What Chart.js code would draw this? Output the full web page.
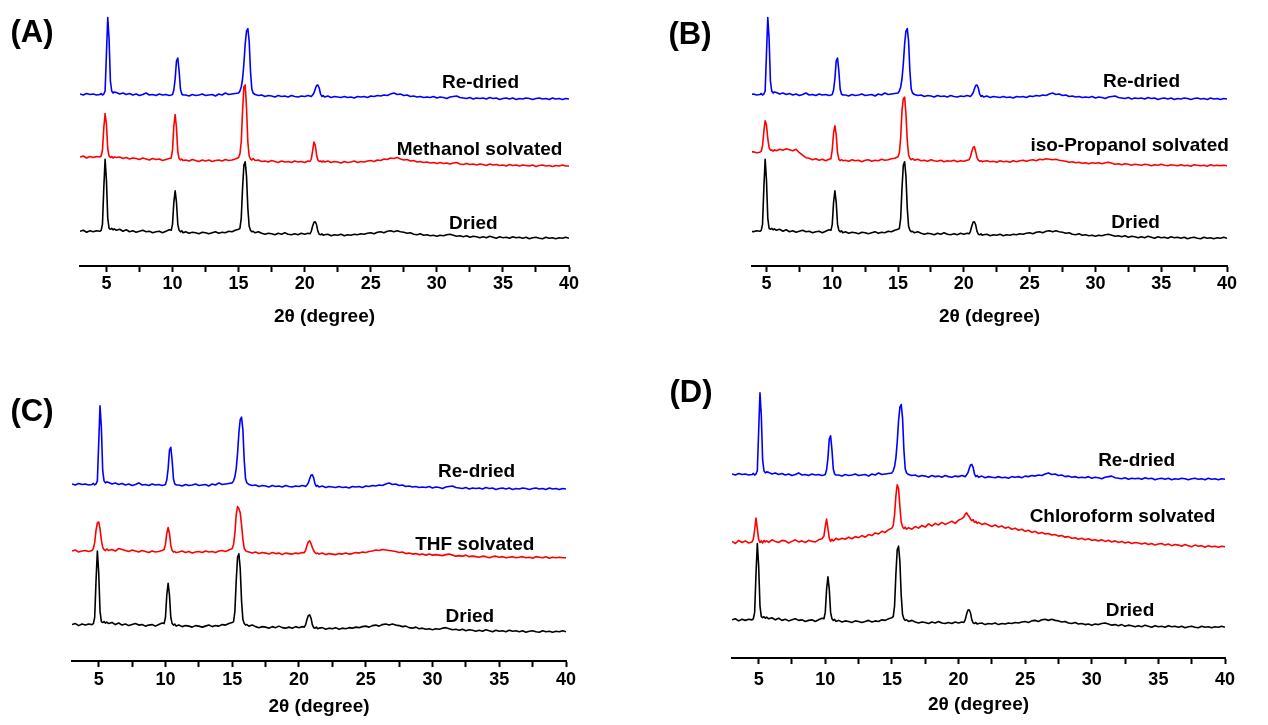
<!DOCTYPE html>
<html>
<head>
<meta charset="utf-8">
<script src="https://cdn.jsdelivr.net/npm/chart.js@4.4.0/dist/chart.umd.min.js"></script>
<style>
  body { margin: 0; background: #fff; }
  #page { position: relative; width: 1268px; height: 725px; overflow: hidden; background: #fff; }
  #page canvas { position: absolute; }
</style>
</head>
<body>
<div id="page">
  <canvas id="panelA" width="634" height="329" style="left:0;top:0"></canvas>
  <canvas id="panelB" width="634" height="329" style="left:634px;top:0"></canvas>
  <canvas id="panelC" width="634" height="349" style="left:0;top:370px"></canvas>
  <canvas id="panelD" width="634" height="346" style="left:634px;top:370px"></canvas>
</div>
<script>
// 2-theta sampling (degree), finer around the reflections
const angles = [
  3, 3.25, 3.5, 3.75, 4, 4.25,
  4.5, 4.6, 4.7, 4.8, 4.9, 5, 5.1, 5.2, 5.3, 5.4, 5.5, 5.6,
  5.75, 6, 6.25, 6.5, 6.75, 7, 7.25, 7.5, 7.75, 8, 8.25, 8.5, 8.75, 9, 9.25, 9.5, 9.75,
  9.9, 10, 10.1, 10.2, 10.3, 10.4, 10.5, 10.6, 10.7, 10.8,
  11, 11.25, 11.5, 11.75, 12, 12.25, 12.5, 12.75, 13, 13.25, 13.5, 13.75, 14, 14.25, 14.5, 14.75, 15,
  15.1, 15.2, 15.3, 15.4, 15.5, 15.6, 15.7, 15.8, 15.9, 16, 16.1,
  16.25, 16.5, 16.75, 17, 17.25, 17.5, 17.75, 18, 18.25, 18.5, 18.75, 19, 19.25, 19.5, 19.75, 20, 20.25,
  20.4, 20.5, 20.6, 20.7, 20.8, 20.9, 21, 21.1, 21.2, 21.3, 21.4,
  21.5, 21.75, 22, 22.25, 22.5, 22.75, 23, 23.25, 23.5, 23.75, 24, 24.25,
  24.5, 24.75, 25, 25.25, 25.5, 25.75, 26, 26.25, 26.5, 26.75, 27, 27.25,
  27.5, 27.75, 28, 28.25, 28.5, 28.75, 29, 29.25, 29.5, 29.75, 30, 30.25,
  30.5, 30.75, 31, 31.25, 31.5, 31.75, 32, 32.25, 32.5, 32.75, 33, 33.25,
  33.5, 33.75, 34, 34.25, 34.5, 34.75, 35, 35.25, 35.5, 35.75, 36, 36.25,
  36.5, 36.75, 37, 37.25, 37.5, 37.75, 38, 38.25, 38.5, 38.75, 39, 39.25,
  39.5, 39.75, 40
];

// intensities (a.u.) above each pattern's own baseline at 40 deg
const dried = [
  7, 8, 6, 7.5, 6.5, 7.5,
  7, 8, 14, 50, 79, 58, 20, 10, 9, 10, 8.5, 9.5,
  8, 9, 7, 8.5, 6.5, 7.5, 6, 7, 8, 6.5, 7, 5.5, 6.5, 7, 5.5, 7, 8.5,
  8, 14, 36, 47.5, 36, 14, 8, 6.5, 7.5, 5.5,
  6.5, 5, 6, 5.5, 4.5, 6, 5.5, 4.5, 5.5, 6.5, 5, 6, 5.5, 7, 6.5, 8, 9,
  10, 20, 50, 73, 76.5, 62, 30, 12, 8, 6.5, 7,
  5.5, 6.5, 5, 4, 5, 4.5, 3.5, 5, 4, 5.5, 4, 3.5, 4.5, 3.5, 5, 4, 5,
  4.5, 7, 12, 16, 16.5, 13.5, 7, 4, 3.5, 4.5, 3,
  3.5, 4, 2.5, 3.5, 3, 4, 2.5, 3.5, 3, 4, 3.5, 4.5,
  4, 5, 5.5, 4.5, 6, 6.5, 5.5, 7, 7.5, 6.5, 7.5, 6.5,
  6, 5, 5.5, 4, 3.5, 4.5, 3, 3.5, 2.5, 3, 2, 3,
  2.5, 3.5, 4, 3, 2, 2.5, 1.5, 2.5, 1, 2, 1.5, 0.5,
  1.5, 0.5, 2, 1, 0, 1.5, 0.5, 1, 0, 1.5, 0.5, 1,
  0, 1, -0.5, 0.5, 1, 0, -0.5, 1, 0, 0.5, -0.5, 0.5,
  0, 1, 0
];

const reDried = [
  5, 4, 5.5, 4.5, 5, 4,
  4.5, 5.5, 4, 5, 8, 45, 81.5, 60, 18, 8, 6, 7,
  6.5, 5, 6, 4.5, 5.5, 4, 5, 3.5, 4.5, 6, 4, 4.5, 3.5, 5, 4, 4.5, 3.5,
  4, 4.5, 9, 20, 38, 41, 28, 10, 5, 4,
  4, 3, 4.5, 3.5, 4, 5, 3.5, 4, 4.5, 3, 5, 4, 6, 4.5, 5, 5.5, 6,
  8, 12, 20, 35, 55, 68, 70.5, 58, 28, 10, 6,
  4.5, 3.5, 4, 2.5, 3.5, 3, 2, 3.5, 2.5, 3, 2, 3.5, 2.5, 2, 3, 2.5, 3.5,
  3, 2.5, 4, 6, 10, 13.5, 14, 11, 5, 2.5, 3.5,
  2, 3, 1.5, 2.5, 2, 1.5, 2.5, 1.5, 2, 1, 2.5, 2,
  2.5, 1.5, 3, 2.5, 3.5, 3, 4, 3.5, 5, 6, 4.5, 5,
  3.5, 4, 2.5, 3, 2, 2.5, 1.5, 2, 1.5, 2.5, 1, 2,
  1.5, 0.5, 2, 2.5, 3, 1.5, 1, 0.5, 1.5, 0, 1, 0.5,
  1, 0, 1.5, 0.5, 1, -0.5, 0.5, 1, 0, 1, -0.5, 0.5,
  0, 1, 0.5, -0.5, 0.5, 1, 0, 0.5, -0.5, 1, 0, 0.5,
  -0.5, 0.5, 0
];

const methanolSolvated = [
  9, 10, 8, 9.5, 8.5, 9.5,
  9, 10, 16, 38, 52.5, 42, 17, 10, 8.5, 9.5, 8, 9,
  8.5, 9, 7.5, 8.5, 7, 8, 7.5, 6.5, 8, 7, 6, 7.5, 6.5, 7, 5.5, 6.5, 7.5,
  8, 16, 40, 51.5, 38, 14, 7.5, 6, 7, 5.5,
  6, 5, 6.5, 5.5, 4.5, 6, 5, 6, 4.5, 5.5, 6, 5, 6.5, 5.5, 6, 7, 8.5,
  12, 24, 55, 79, 81, 58, 24, 10, 7, 6, 7.5,
  5.5, 6, 4.5, 5, 4, 5.5, 4.5, 3.5, 5, 4, 4.5, 3.5, 5, 4, 4.5, 3.5, 5,
  4.5, 7, 15, 24, 21, 11, 6, 4.5, 5, 4, 5,
  4, 5, 3.5, 4.5, 4, 3, 4.5, 3.5, 4, 5, 3.5, 4.5,
  4, 5, 5.5, 4.5, 6, 5.5, 7, 6.5, 8, 7.5, 8.5, 7,
  6, 6.5, 5, 5.5, 4, 4.5, 3.5, 4, 3, 3.5, 2.5, 3.5,
  2.5, 3, 2, 3, 3.5, 2, 1.5, 2.5, 1.5, 2, 1, 2,
  1.5, 0.5, 2, 1, 1.5, 0.5, 1, 0, 1.5, 0.5, 1, 0,
  1, 0.5, 0, 1, -0.5, 0.5, 1, 0, 0.5, -0.5, 0.5, 0,
  1, 0, 0
];

const isoPropanolSolvated = [
  14, 13, 14.5, 13.5, 14, 13,
  13.5, 14.5, 20, 34, 45, 41, 27, 18, 15.5, 16, 14.5, 16,
  15, 16.5, 15.5, 17, 16, 15, 16.5, 13, 10.5, 8, 7.5, 6, 7, 5.5, 6.5, 5, 6.5,
  7, 16, 33, 40, 31, 13, 6.5, 5, 6, 5,
  5.5, 4.5, 6, 5, 5.5, 4, 5.5, 6, 4.5, 5.5, 5, 6.5, 5.5, 6, 7, 7.5, 9,
  13, 28, 55, 67, 68.5, 52, 25, 11, 7.5, 6, 7,
  5.5, 6.5, 5, 5.5, 4.5, 6, 5, 4.5, 5.5, 4, 5, 4.5, 5.5, 4, 5, 4.5, 5.5,
  6, 9, 14, 18, 19, 14, 8, 5.5, 4.5, 5, 4,
  4.5, 5, 4, 4.5, 3.5, 5, 4, 4.5, 3.5, 5, 4, 5,
  5.5, 4.5, 5.5, 6, 5, 6.5, 6, 7, 6.5, 6, 6.5, 5.5,
  5, 4.5, 3.5, 4, 3, 3.5, 2.5, 3, 2, 3, 2.5, 3,
  2, 3, 3.5, 2.5, 1.5, 2, 1, 2, 1.5, 0.5, 1.5, 1,
  0.5, 1.5, 1, 0, 1, 0.5, 1.5, 0.5, 0, 1, 0.5, 0,
  1, 0, 0.5, -0.5, 1, 0.5, 0, 0.5, -0.5, 1, 0, 0.5,
  0, 0.5, 0
];

const thfSolvated = [
  6.5, 7.5, 5.5, 6.5, 7, 6,
  7, 9, 15, 27, 34, 35, 28, 17, 10, 8, 7, 8.5,
  7, 8, 6.5, 9, 8, 7, 6, 7.5, 6.5, 5.5, 7, 6, 5, 6.5, 5.5, 6, 7,
  8, 13, 24, 29.5, 24, 12, 7, 5.5, 6, 5,
  5.5, 6.5, 5, 6, 4.5, 5.5, 6, 5, 6.5, 5.5, 6, 5, 6.5, 7, 6, 7.5, 9,
  13, 24, 42, 50, 48, 44, 32, 18, 9, 7, 6,
  5.5, 4.5, 5.5, 4, 5, 4.5, 3.5, 5, 4, 4.5, 3, 4.5, 4, 3.5, 4.5, 4, 5,
  5, 7.5, 12, 15.5, 16.5, 14, 10, 7, 5, 4, 4.5,
  3.5, 4.5, 3, 4, 3.5, 3, 4, 3.5, 4.5, 3.5, 4, 5,
  4.5, 5.5, 5, 6, 6.5, 7.5, 7, 8, 7.5, 7, 6.5, 6,
  5, 5.5, 4, 4.5, 3.5, 4, 3, 3.5, 2.5, 3.5, 2.5, 3,
  2.5, 2, 3, 3.5, 2.5, 1.5, 2, 1.5, 2.5, 1, 1.5, 1,
  0.5, 1.5, 1, 0, 1, 1.5, 0.5, 1, 0, 0.5, 1, 0,
  0.5, 1, 0, 0.5, -0.5, 1, 0.5, 0, 1, -0.5, 0.5, 0,
  0.5, 0, 0
];

const chloroformSolvated = [
  5, 3, 6, 4, 5.5, 3.5,
  4.5, 7, 16, 27, 17, 7, 4, 5.5, 3.5, 6, 4.5, 5.5,
  4, 6.5, 5, 4, 6, 5.5, 3.5, 5, 6.5, 4.5, 5.5, 4, 6, 5, 4.5, 6.5, 7.5,
  10, 19, 26, 17, 8, 5, 7, 5.5, 6.5, 8,
  6.5, 8, 7, 9, 7.5, 9.5, 8.5, 10.5, 9, 11.5, 10.5, 13, 12, 14.5, 13.5, 16, 17.5,
  20, 30, 48, 58.5, 55, 38, 23, 19, 17, 18.5, 16.5,
  18, 16.5, 19, 17.5, 20, 18.5, 21.5, 19.5, 22, 20.5, 23, 21, 22.5, 24, 22, 25, 26.5,
  28, 30.5, 32, 30, 28.5, 26, 24.5, 25.5, 23, 24, 22,
  23, 21, 22, 20.5, 19, 20.5, 18.5, 19.5, 17.5, 18.5, 16.5, 17.5,
  15.5, 16.5, 14.5, 15.5, 13.5, 14.5, 12.5, 13.5, 12, 12.5, 11, 11.5,
  10, 10.5, 9, 9.5, 8, 8.5, 7, 8, 6.5, 7.5, 6, 6.5,
  5.5, 6.5, 5, 6, 4.5, 5.5, 4, 5, 3.5, 4.5, 3, 4,
  3.5, 2.5, 3.5, 2, 3, 1.5, 2.5, 3, 1.5, 2.5, 1, 2,
  1.5, 0.5, 2, 1, 0, 1.5, 0.5, 1, -0.5, 1, 0, 0.5,
  -0.5, 0.5, 0
];

const majorTicks = [5, 10, 15, 20, 25, 30, 35, 40];
const minorTicks = [7.5, 12.5, 17.5, 22.5, 27.5, 32.5, 37.5];

const FONT = "'Liberation Sans', Arial, sans-serif";
const BLUE = "#0000ff";
const RED = "#ff0000";
const BLACK = "#000000";

// stacking offsets (a.u.) and label spots for each panel
const panels = [
  {
    id: "panelA", letter: "(A)", letterAt: [32, 33],
    padL: 80, padR: 65, xmin: 3, yMax: 266, axisH: 63, tickPad: 1, titlePad: 1,
    series: [
      { data: methanolSolvated, offset: 100, color: RED },
      { data: dried, offset: 27.7, color: BLACK },
      { data: reDried, offset: 167, color: BLUE },
    ],
    labels: [
      { text: "Re-dried", x: 33.3, y: 183.3 },
      { text: "Methanol solvated", x: 33.23, y: 116.7 },
      { text: "Dried", x: 32.76, y: 42.7 },
    ],
  },
  {
    id: "panelB", letter: "(B)", letterAt: [56, 35],
    padL: 118, padR: 41, xmin: 3.9, yMax: 266, axisH: 63, tickPad: 1, titlePad: 1,
    series: [
      { data: isoPropanolSolvated, offset: 100.3, color: RED },
      { data: dried, offset: 27.7, color: BLACK },
      { data: reDried, offset: 167, color: BLUE },
    ],
    labels: [
      { text: "Re-dried", x: 33.5, y: 184 },
      { text: "iso-Propanol solvated", x: 32.6, y: 120 },
      { text: "Dried", x: 33.05, y: 43.3 },
    ],
  },
  {
    id: "panelC", letter: "(C)", letterAt: [32, 42],
    padL: 72, padR: 68, xmin: 3, yMax: 285.3, axisH: 58, tickPad: 2, titlePad: 1,
    series: [
      { data: thfSolvated, offset: 101.3, color: RED },
      { data: dried, offset: 28.7, color: BLACK },
      { data: reDried, offset: 168.6, color: BLUE },
    ],
    labels: [
      { text: "Re-dried", x: 33.3, y: 185.6 },
      { text: "THF solvated", x: 33.17, y: 113.7 },
      { text: "Dried", x: 32.8, y: 43.4 },
    ],
  },
  {
    id: "panelD", letter: "(D)", letterAt: [57, 23],
    padL: 98, padR: 43, xmin: 3, yMax: 271.7, axisH: 58, tickPad: 5, titlePad: 0,
    series: [
      { data: chloroformSolvated, offset: 105, color: RED },
      { data: dried, offset: 29, color: BLACK },
      { data: reDried, offset: 168.6, color: BLUE },
    ],
    labels: [
      { text: "Re-dried", x: 33.37, y: 186.1 },
      { text: "Chloroform solvated", x: 32.31, y: 133.3 },
      { text: "Dried", x: 32.87, y: 44.6 },
    ],
  },
];

function toPoints(values, offset) {
  return angles.map((a, i) => ({ x: a, y: values[i] + offset }));
}

// panel letter + curve names
function textPlugin(p) {
  return {
    id: "panelText",
    afterDraw(chart) {
      const ctx = chart.ctx;
      const xs = chart.scales.x;
      const ys = chart.scales.y;
      ctx.save();
      ctx.fillStyle = "#000";
      ctx.textBaseline = "middle";
      ctx.textAlign = "center";
      ctx.font = "bold 31px " + FONT;
      ctx.fillText(p.letter, p.letterAt[0], p.letterAt[1]);
      ctx.font = "bold 19px " + FONT;
      p.labels.forEach((l) => {
        ctx.fillText(l.text, xs.getPixelForValue(l.x), ys.getPixelForValue(l.y));
      });
      ctx.restore();
    },
  };
}

panels.forEach((p) => {
  new Chart(document.getElementById(p.id), {
    type: "line",
    data: {
      datasets: p.series.map((s) => ({
        data: toPoints(s.data, s.offset),
        borderColor: s.color,
        borderWidth: 1.6,
        borderJoinStyle: "round",
        pointRadius: 0,
        tension: 0,
        fill: false,
      })),
    },
    options: {
      responsive: false,
      animation: false,
      events: [],
      layout: { padding: { left: p.padL, right: p.padR, top: 0, bottom: 0 } },
      plugins: { legend: { display: false }, tooltip: { enabled: false } },
      scales: {
        x: {
          type: "linear",
          min: p.xmin,
          max: 40,
          afterBuildTicks: (scale) => {
            scale.ticks = majorTicks.concat(minorTicks).sort((a, b) => a - b).map((v) => ({ value: v }));
          },
          afterFit: (scale) => { scale.height = p.axisH; },
          border: { display: true, color: "#000", width: 2 },
          grid: {
            display: true,
            drawOnChartArea: false,
            drawTicks: true,
            tickLength: 6,
            tickWidth: 2,
            tickColor: "#000",
          },
          ticks: {
            autoSkip: false,
            maxRotation: 0,
            padding: p.tickPad,
            color: "#000",
            font: { family: FONT, size: 18, weight: "bold" },
            callback: (v) => (majorTicks.includes(v) ? String(v) : ""),
          },
          title: {
            display: true,
            text: "2θ (degree)",
            color: "#000",
            font: { family: FONT, size: 19, weight: "bold" },
            padding: { top: 0, bottom: p.titlePad },
          },
        },
        y: { display: false, min: 0, max: p.yMax },
      },
    },
    plugins: [textPlugin(p)],
  });
});
</script>
</body>
</html>
